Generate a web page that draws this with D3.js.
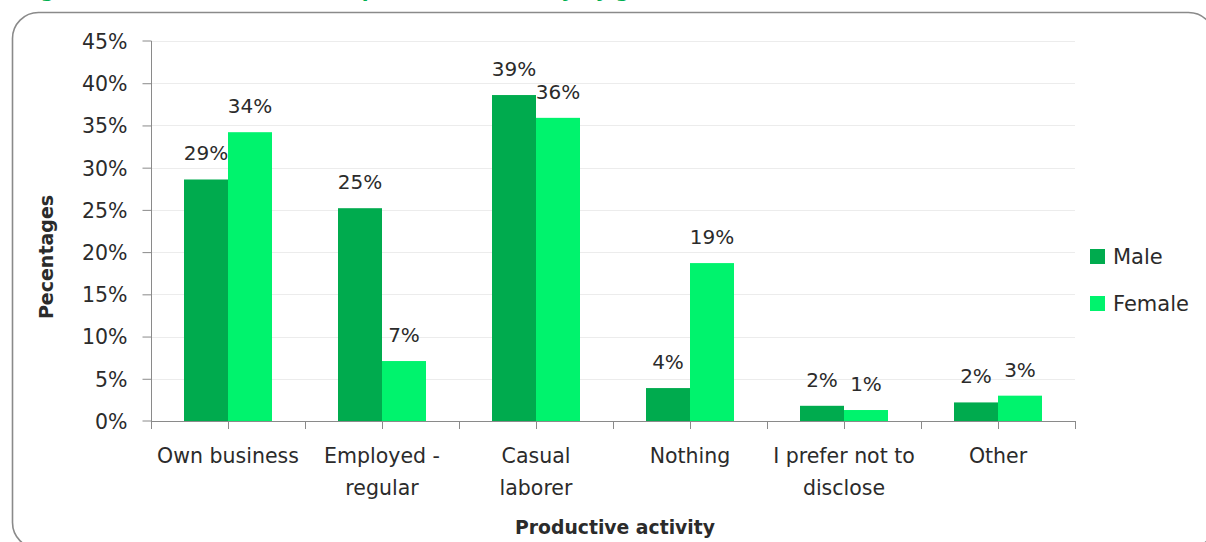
<!DOCTYPE html>
<html>
<head>
<meta charset="utf-8">
<script src="https://cdn.jsdelivr.net/npm/d3@7"></script>
<style>
  html, body { margin: 0; padding: 0; background: #fff; }
  svg { display: block; }
  text { font-family: "DejaVu Sans", sans-serif; fill: #2b2b2b; }
</style>
</head>
<body>
<svg id="chart" width="1206" height="542"></svg>
<script>
// Main productive activity, share of respondents by gender
const categories = [
  ["Own business"],
  ["Employed -", "regular"],
  ["Casual", "laborer"],
  ["Nothing"],
  ["I prefer not to", "disclose"],
  ["Other"]
];
const seriesNames = ["Male", "Female"];
const maleValues   = [0.286, 0.252, 0.386, 0.039, 0.018, 0.022];
const femaleValues = [0.342, 0.071, 0.359, 0.187, 0.013, 0.030];
const yTicks = [0, 0.05, 0.10, 0.15, 0.20, 0.25, 0.30, 0.35, 0.40, 0.45];
const colors = ["#00ab4e", "#00f36d"];

const svg = d3.select("#chart");
const plotLeft = 151, plotRight = 1075, plotTop = 41, plotBottom = 421;

// Chart frame
svg.append("rect")
  .attr("x", 12.5).attr("y", 12.5)
  .attr("width", 1202).attr("height", 536)
  .attr("rx", 26).attr("ry", 26)
  .attr("fill", "none").attr("stroke", "#8a8a8a").attr("stroke-width", 1.6);

// Heading above the frame
svg.append("text")
  .attr("x", 20).attr("y", -3)
  .style("font-weight", "bold").style("font-size", "20px")
  .style("fill", "#00b050")
  .text("Figure 7: Distribution of main productive activity by gender");

const keys = categories.map(c => c.join(" "));
const x = d3.scaleBand().domain(keys).range([plotLeft, plotRight])
  .paddingInner(0.4286).paddingOuter(0.2143);
const x1 = d3.scaleBand().domain(seriesNames).range([0, x.bandwidth()]);
const y = d3.scaleLinear().domain([0, 0.45]).range([plotBottom, plotTop]);

// Gridlines
svg.append("g")
  .selectAll("line").data(yTicks.slice(1)).join("line")
  .attr("x1", plotLeft).attr("x2", plotRight)
  .attr("y1", d => Math.round(y(d)) + 0.5).attr("y2", d => Math.round(y(d)) + 0.5)
  .attr("stroke", "#ececec").attr("stroke-width", 1);

// Bars
const data = keys.map((k, i) => ({ key: k, values: [maleValues[i], femaleValues[i]] }));
const groups = svg.append("g").selectAll("g").data(data).join("g")
  .attr("transform", d => `translate(${x(d.key)},0)`);

groups.selectAll("rect")
  .data(d => d.values.map((v, j) => ({ s: seriesNames[j], v, j })))
  .join("rect")
  .attr("x", d => x1(d.s))
  .attr("width", x1.bandwidth())
  .attr("y", d => y(d.v))
  .attr("height", d => y(0) - y(d.v))
  .attr("fill", d => colors[d.j]);

// Value labels
const fmt = d3.format(".0%");
groups.selectAll("text.val")
  .data(d => d.values.map((v, j) => ({ s: seriesNames[j], v, j })))
  .join("text").attr("class", "val")
  .attr("x", d => x1(d.s) + x1.bandwidth() / 2)
  .attr("y", d => y(d.v) - 19)
  .attr("text-anchor", "middle")
  .style("font-size", "20px")
  .text(d => fmt(d.v));

// Y axis
const yAxis = d3.axisLeft(y).tickValues(yTicks).tickFormat(d3.format(".0%"))
  .tickSize(9).tickPadding(15);
const gy = svg.append("g").attr("transform", `translate(${plotLeft + 0.5},0)`).call(yAxis);
gy.select(".domain").attr("stroke", "#8a8a8a").attr("d", `M-9,${plotTop}H0V${plotBottom}H-9`);
gy.selectAll(".tick line").attr("stroke", "#8a8a8a");
gy.selectAll(".tick text").style("font-size", "20.5px").style("font-family", "DejaVu Sans, sans-serif").attr("fill", "#2b2b2b").attr("dy", "0.36em");
gy.selectAll(".tick").filter(d => d === 0.45 || d === 0).select("line").remove();

// X axis: baseline with ticks at category edges and centres
const gx = svg.append("g");
gx.append("line")
  .attr("x1", plotLeft).attr("x2", plotRight)
  .attr("y1", plotBottom + 0.5).attr("y2", plotBottom + 0.5)
  .attr("stroke", "#8a8a8a");
const tickXs = [];
keys.forEach(k => { tickXs.push(x(k) - x.step() * x.paddingInner() / 2); tickXs.push(x(k) + x.bandwidth() / 2); });
tickXs.push(plotRight);
gx.selectAll("line.tk").data(tickXs).join("line").attr("class", "tk")
  .attr("x1", d => Math.round(d) + 0.5).attr("x2", d => Math.round(d) + 0.5)
  .attr("y1", plotBottom).attr("y2", plotBottom + 8)
  .attr("stroke", "#8a8a8a");

// Category labels
const cat = gx.selectAll("text.cat").data(categories).join("text").attr("class", "cat")
  .attr("text-anchor", "middle")
  .style("font-size", "20.5px");
cat.each(function(lines, i) {
  const t = d3.select(this);
  const cx = x(keys[i]) + x.bandwidth() / 2;
  lines.forEach((ln, j) => {
    t.append("tspan").attr("x", cx).attr("y", 463 + j * 32).text(ln);
  });
});

// Axis titles
svg.append("text")
  .attr("x", 615).attr("y", 534)
  .attr("text-anchor", "middle")
  .style("font-weight", "bold").style("font-size", "18.8px")
  .text("Productive activity");

svg.append("text")
  .attr("transform", "translate(53,257) rotate(-90)")
  .attr("text-anchor", "middle")
  .style("font-weight", "bold").style("font-size", "19px")
  .text("Pecentages");

// Legend
const legend = svg.append("g").selectAll("g").data(seriesNames).join("g")
  .attr("transform", (d, i) => `translate(1090,${249 + i * 47})`);
legend.append("rect").attr("width", 15).attr("height", 15).attr("fill", (d, i) => colors[i]);
legend.append("text").attr("x", 23).attr("y", 15)
  .style("font-size", "21px").text(d => d);
</script>
</body>
</html>
